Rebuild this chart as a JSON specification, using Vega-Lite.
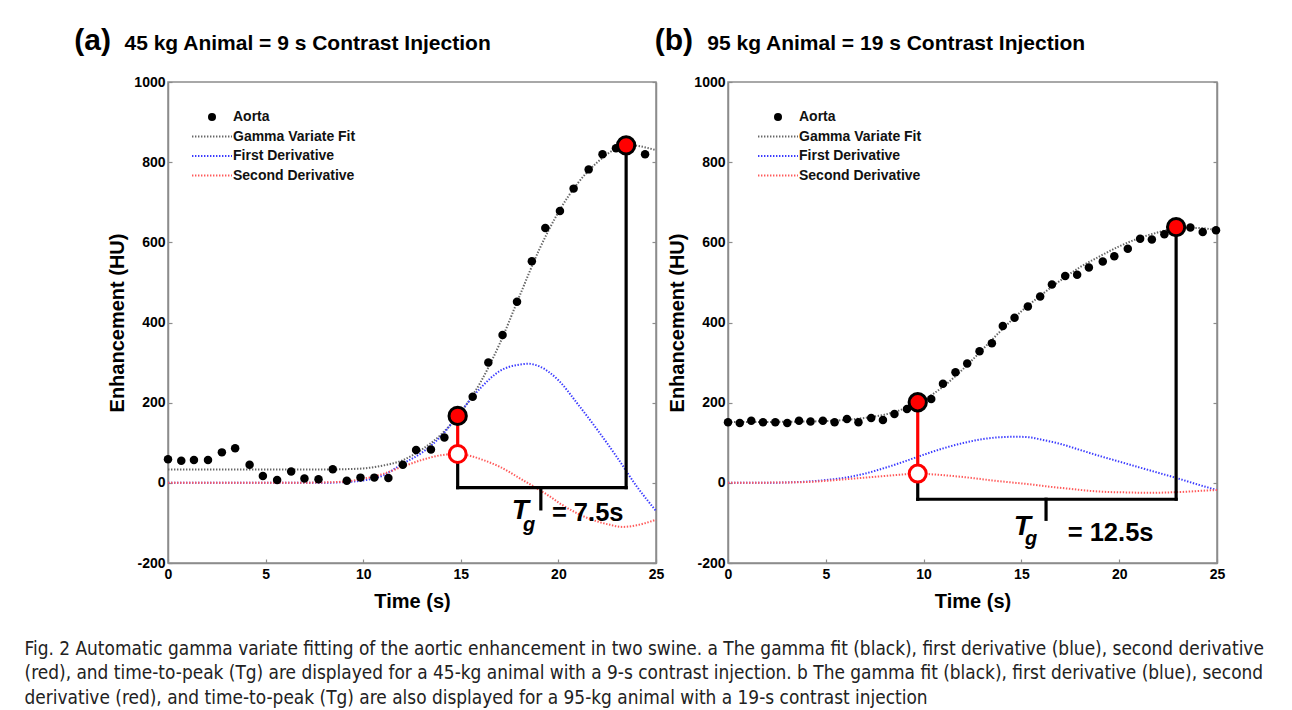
{
  "$schema": "https://vega.github.io/schema/vega-lite/v6.json",
  "background": "white",
  "autosize": {"type": "pad"},
  "padding": {"left": 24, "top": 25, "right": 10, "bottom": 5},
  "title": {
    "text": [
      "Fig. 2 Automatic gamma variate fitting of the aortic enhancement in two swine. a The gamma fit (black), first derivative (blue), second derivative",
      "(red), and time-to-peak (Tg) are displayed for a 45-kg animal with a 9-s contrast injection. b The gamma fit (black), first derivative (blue), second",
      "derivative (red), and time-to-peak (Tg) are also displayed for a 95-kg animal with a 19-s contrast injection"
    ],
    "orient": "bottom",
    "anchor": "start",
    "frame": "bounds",
    "dx": -49,
    "offset": 28,
    "font": "DejaVu Sans Condensed",
    "fontSize": 18.9,
    "fontWeight": "normal",
    "lineHeight": 24.5,
    "color": "#222222"
  },
  "datasets": {
    "aortaA": [
      {"t": 0, "v": 59}, {"t": 0.68, "v": 55}, {"t": 1.33, "v": 57}, {"t": 2.05, "v": 57}, {"t": 2.76, "v": 76},
      {"t": 3.44, "v": 86}, {"t": 4.18, "v": 45}, {"t": 4.86, "v": 17}, {"t": 5.59, "v": 7}, {"t": 6.31, "v": 28},
      {"t": 6.99, "v": 11}, {"t": 7.71, "v": 9}, {"t": 8.44, "v": 34}, {"t": 9.16, "v": 5}, {"t": 9.86, "v": 13},
      {"t": 10.57, "v": 13}, {"t": 11.29, "v": 12}, {"t": 12.03, "v": 45}, {"t": 12.71, "v": 82}, {"t": 13.47, "v": 83},
      {"t": 14.16, "v": 113}, {"t": 14.88, "v": 168}, {"t": 15.61, "v": 215}, {"t": 16.41, "v": 300}, {"t": 17.14, "v": 369},
      {"t": 17.88, "v": 452}, {"t": 18.64, "v": 553}, {"t": 19.33, "v": 636}, {"t": 20.08, "v": 678}, {"t": 20.78, "v": 734},
      {"t": 21.55, "v": 782}, {"t": 22.26, "v": 820}, {"t": 22.95, "v": 835}, {"t": 23.7, "v": 845}, {"t": 24.44, "v": 820}
    ],
    "curvesA": [
      {"t": 0, "v": 33, "series": "Gamma Variate Fit"}, {"t": 2, "v": 33, "series": "Gamma Variate Fit"}, {"t": 4, "v": 33, "series": "Gamma Variate Fit"},
      {"t": 6, "v": 33, "series": "Gamma Variate Fit"}, {"t": 8, "v": 33, "series": "Gamma Variate Fit"}, {"t": 9, "v": 34, "series": "Gamma Variate Fit"},
      {"t": 10, "v": 36, "series": "Gamma Variate Fit"}, {"t": 11, "v": 43, "series": "Gamma Variate Fit"}, {"t": 12, "v": 56, "series": "Gamma Variate Fit"},
      {"t": 13, "v": 83, "series": "Gamma Variate Fit"}, {"t": 14, "v": 121, "series": "Gamma Variate Fit"}, {"t": 15, "v": 176, "series": "Gamma Variate Fit"},
      {"t": 16, "v": 250, "series": "Gamma Variate Fit"}, {"t": 17, "v": 348, "series": "Gamma Variate Fit"}, {"t": 18, "v": 465, "series": "Gamma Variate Fit"},
      {"t": 19, "v": 580, "series": "Gamma Variate Fit"}, {"t": 20, "v": 675, "series": "Gamma Variate Fit"}, {"t": 21, "v": 748, "series": "Gamma Variate Fit"},
      {"t": 22, "v": 800, "series": "Gamma Variate Fit"}, {"t": 23, "v": 835, "series": "Gamma Variate Fit"}, {"t": 23.5, "v": 843, "series": "Gamma Variate Fit"},
      {"t": 24, "v": 841, "series": "Gamma Variate Fit"}, {"t": 25, "v": 830, "series": "Gamma Variate Fit"},
      {"t": 0, "v": 0, "series": "First Derivative"}, {"t": 2, "v": 0, "series": "First Derivative"}, {"t": 4, "v": 0, "series": "First Derivative"},
      {"t": 6, "v": 0, "series": "First Derivative"}, {"t": 8, "v": 0, "series": "First Derivative"}, {"t": 9, "v": 2, "series": "First Derivative"},
      {"t": 10, "v": 6, "series": "First Derivative"}, {"t": 11, "v": 18, "series": "First Derivative"}, {"t": 12, "v": 47, "series": "First Derivative"},
      {"t": 13, "v": 75, "series": "First Derivative"}, {"t": 14, "v": 117, "series": "First Derivative"}, {"t": 15, "v": 178, "series": "First Derivative"},
      {"t": 16, "v": 236, "series": "First Derivative"}, {"t": 17, "v": 279, "series": "First Derivative"}, {"t": 18, "v": 295, "series": "First Derivative"},
      {"t": 18.5, "v": 297, "series": "First Derivative"}, {"t": 19, "v": 291, "series": "First Derivative"}, {"t": 20, "v": 256, "series": "First Derivative"},
      {"t": 21, "v": 196, "series": "First Derivative"}, {"t": 22, "v": 132, "series": "First Derivative"}, {"t": 23, "v": 64, "series": "First Derivative"},
      {"t": 24, "v": -8, "series": "First Derivative"}, {"t": 25, "v": -70, "series": "First Derivative"},
      {"t": 0, "v": 0, "series": "Second Derivative"}, {"t": 2, "v": 0, "series": "Second Derivative"}, {"t": 4, "v": 0, "series": "Second Derivative"},
      {"t": 6, "v": 0, "series": "Second Derivative"}, {"t": 8, "v": 1, "series": "Second Derivative"}, {"t": 9, "v": 3, "series": "Second Derivative"},
      {"t": 10, "v": 10, "series": "Second Derivative"}, {"t": 11, "v": 22, "series": "Second Derivative"}, {"t": 12, "v": 40, "series": "Second Derivative"},
      {"t": 13, "v": 57, "series": "Second Derivative"}, {"t": 14, "v": 69, "series": "Second Derivative"}, {"t": 14.84, "v": 72, "series": "Second Derivative"},
      {"t": 15.5, "v": 67, "series": "Second Derivative"}, {"t": 16.2, "v": 56, "series": "Second Derivative"}, {"t": 17, "v": 40, "series": "Second Derivative"},
      {"t": 18, "v": 12, "series": "Second Derivative"}, {"t": 18.76, "v": -10, "series": "Second Derivative"}, {"t": 19.5, "v": -32, "series": "Second Derivative"},
      {"t": 20.13, "v": -53, "series": "Second Derivative"}, {"t": 21, "v": -77, "series": "Second Derivative"}, {"t": 21.5, "v": -88, "series": "Second Derivative"},
      {"t": 22.5, "v": -103, "series": "Second Derivative"}, {"t": 23.3, "v": -110, "series": "Second Derivative"}, {"t": 24, "v": -106, "series": "Second Derivative"},
      {"t": 25, "v": -92, "series": "Second Derivative"}
    ],
    "bracketA": [
      {"t": 14.84, "v": 72, "t2": 14.84, "v2": -12},
      {"t": 14.84, "v": -12, "t2": 23.47, "v2": -12},
      {"t": 23.47, "v": -12, "t2": 23.47, "v2": 842},
      {"t": 19.1, "v": -12, "t2": 19.1, "v2": -65}
    ],
    "linkA": [{"t": 14.84, "v": 167, "t2": 14.84, "v2": 72}],
    "keyA": [{"t": 14.84, "v": 167}, {"t": 23.47, "v": 842}],
    "d2A": [{"t": 14.84, "v": 72}],
    "aortaB": [
      {"t": 0, "v": 151}, {"t": 0.6, "v": 149}, {"t": 1.19, "v": 155}, {"t": 1.79, "v": 151}, {"t": 2.42, "v": 151},
      {"t": 3.03, "v": 149}, {"t": 3.63, "v": 155}, {"t": 4.22, "v": 153}, {"t": 4.85, "v": 155}, {"t": 5.45, "v": 151},
      {"t": 6.08, "v": 159}, {"t": 6.67, "v": 151}, {"t": 7.32, "v": 162}, {"t": 7.92, "v": 157}, {"t": 8.51, "v": 172},
      {"t": 9.15, "v": 184}, {"t": 9.71, "v": 201}, {"t": 10.39, "v": 209}, {"t": 10.99, "v": 247}, {"t": 11.63, "v": 276},
      {"t": 12.23, "v": 298}, {"t": 12.86, "v": 328}, {"t": 13.49, "v": 348}, {"t": 14.05, "v": 391}, {"t": 14.65, "v": 412},
      {"t": 15.33, "v": 440}, {"t": 15.96, "v": 465}, {"t": 16.56, "v": 495}, {"t": 17.24, "v": 516}, {"t": 17.85, "v": 519},
      {"t": 18.45, "v": 537}, {"t": 19.16, "v": 552}, {"t": 19.75, "v": 565}, {"t": 20.44, "v": 584}, {"t": 21.07, "v": 609},
      {"t": 21.67, "v": 607}, {"t": 22.31, "v": 620}, {"t": 22.91, "v": 638}, {"t": 23.64, "v": 637}, {"t": 24.27, "v": 626},
      {"t": 24.95, "v": 630}
    ],
    "curvesB": [
      {"t": 0, "v": 152, "series": "Gamma Variate Fit"}, {"t": 2, "v": 152, "series": "Gamma Variate Fit"}, {"t": 4, "v": 153, "series": "Gamma Variate Fit"},
      {"t": 5, "v": 154, "series": "Gamma Variate Fit"}, {"t": 6, "v": 157, "series": "Gamma Variate Fit"}, {"t": 7, "v": 162, "series": "Gamma Variate Fit"},
      {"t": 8, "v": 170, "series": "Gamma Variate Fit"}, {"t": 9, "v": 185, "series": "Gamma Variate Fit"}, {"t": 10, "v": 207, "series": "Gamma Variate Fit"},
      {"t": 11, "v": 240, "series": "Gamma Variate Fit"}, {"t": 12, "v": 283, "series": "Gamma Variate Fit"}, {"t": 13, "v": 332, "series": "Gamma Variate Fit"},
      {"t": 14, "v": 382, "series": "Gamma Variate Fit"}, {"t": 15, "v": 428, "series": "Gamma Variate Fit"}, {"t": 16, "v": 468, "series": "Gamma Variate Fit"},
      {"t": 17, "v": 505, "series": "Gamma Variate Fit"}, {"t": 18, "v": 538, "series": "Gamma Variate Fit"}, {"t": 19, "v": 565, "series": "Gamma Variate Fit"},
      {"t": 20, "v": 590, "series": "Gamma Variate Fit"}, {"t": 21, "v": 610, "series": "Gamma Variate Fit"}, {"t": 22, "v": 625, "series": "Gamma Variate Fit"},
      {"t": 23, "v": 635, "series": "Gamma Variate Fit"}, {"t": 24, "v": 636, "series": "Gamma Variate Fit"}, {"t": 25, "v": 630, "series": "Gamma Variate Fit"},
      {"t": 0, "v": 0, "series": "First Derivative"}, {"t": 2, "v": 0, "series": "First Derivative"}, {"t": 3, "v": 1, "series": "First Derivative"},
      {"t": 4, "v": 3, "series": "First Derivative"}, {"t": 5, "v": 7, "series": "First Derivative"}, {"t": 6, "v": 13, "series": "First Derivative"},
      {"t": 7, "v": 23, "series": "First Derivative"}, {"t": 8, "v": 37, "series": "First Derivative"}, {"t": 9, "v": 53, "series": "First Derivative"},
      {"t": 10, "v": 70, "series": "First Derivative"}, {"t": 11, "v": 86, "series": "First Derivative"}, {"t": 12, "v": 99, "series": "First Derivative"},
      {"t": 13, "v": 109, "series": "First Derivative"}, {"t": 14, "v": 114, "series": "First Derivative"}, {"t": 14.8, "v": 115, "series": "First Derivative"},
      {"t": 15.5, "v": 113, "series": "First Derivative"}, {"t": 16, "v": 108, "series": "First Derivative"}, {"t": 17, "v": 97, "series": "First Derivative"},
      {"t": 18, "v": 82, "series": "First Derivative"}, {"t": 19, "v": 67, "series": "First Derivative"}, {"t": 20, "v": 53, "series": "First Derivative"},
      {"t": 21, "v": 39, "series": "First Derivative"}, {"t": 22, "v": 25, "series": "First Derivative"}, {"t": 23, "v": 11, "series": "First Derivative"},
      {"t": 24, "v": -4, "series": "First Derivative"}, {"t": 25, "v": -18, "series": "First Derivative"},
      {"t": 0, "v": 0, "series": "Second Derivative"}, {"t": 3, "v": 1, "series": "Second Derivative"}, {"t": 4, "v": 2, "series": "Second Derivative"},
      {"t": 5, "v": 5, "series": "Second Derivative"}, {"t": 6, "v": 9, "series": "Second Derivative"}, {"t": 7, "v": 13, "series": "Second Derivative"},
      {"t": 8, "v": 17, "series": "Second Derivative"}, {"t": 9, "v": 21, "series": "Second Derivative"}, {"t": 9.7, "v": 23, "series": "Second Derivative"},
      {"t": 10.5, "v": 21, "series": "Second Derivative"}, {"t": 11.5, "v": 17, "series": "Second Derivative"}, {"t": 12.5, "v": 12, "series": "Second Derivative"},
      {"t": 13.5, "v": 6, "series": "Second Derivative"}, {"t": 14.5, "v": 1, "series": "Second Derivative"}, {"t": 15.5, "v": -4, "series": "Second Derivative"},
      {"t": 16.5, "v": -10, "series": "Second Derivative"}, {"t": 17.5, "v": -15, "series": "Second Derivative"}, {"t": 18.5, "v": -20, "series": "Second Derivative"},
      {"t": 19.5, "v": -23, "series": "Second Derivative"}, {"t": 20.5, "v": -24, "series": "Second Derivative"}, {"t": 21.5, "v": -25, "series": "Second Derivative"},
      {"t": 22.5, "v": -24, "series": "Second Derivative"}, {"t": 23.5, "v": -22, "series": "Second Derivative"}, {"t": 24.5, "v": -19, "series": "Second Derivative"},
      {"t": 25, "v": -18, "series": "Second Derivative"}
    ],
    "bracketB": [
      {"t": 9.7, "v": 23, "t2": 9.7, "v2": -41},
      {"t": 9.7, "v": -41, "t2": 22.91, "v2": -41},
      {"t": 22.91, "v": -41, "t2": 22.91, "v2": 638},
      {"t": 16.26, "v": -41, "t2": 16.26, "v2": -91}
    ],
    "linkB": [{"t": 9.7, "v": 201, "t2": 9.7, "v2": 23}],
    "keyB": [{"t": 9.7, "v": 201}, {"t": 22.91, "v": 638}],
    "d2B": [{"t": 9.7, "v": 23}]
  },
  "hconcat": [
    {
      "width": 488,
      "height": 481,
      "resolve": {"axis": {"y": "independent"}},
      "layer": [
        {
          "layer": [
            {
              "data": {"name": "curvesA"},
              "mark": {"type": "line", "strokeDash": [1.4, 1.6], "strokeWidth": 2, "interpolate": "monotone"},
              "encoding": {
                "x": {"field": "t", "type": "quantitative", "scale": {"domain": [0, 25], "nice": false, "zero": false}, "axis": {"title": "Time (s)", "values": [0, 5, 10, 15, 20, 25], "labelPadding": 8, "titlePadding": 10}},
                "y": {"field": "v", "type": "quantitative", "scale": {"domain": [-200, 1000], "nice": false}, "axis": {"title": "Enhancement (HU)", "values": [-200, 0, 200, 400, 600, 800, 1000], "labelExpr": "'' + datum.value", "labelPadding": 7, "titlePadding": 6}},
                "color": {
                  "field": "series", "type": "nominal",
                  "scale": {"domain": ["Aorta", "Gamma Variate Fit", "First Derivative", "Second Derivative"], "range": ["#000000", "#666666", "#3b3bff", "#ff5a5a"]},
                  "legend": {
                    "orient": "none", "legendX": 37, "legendY": 28, "title": null, "padding": 0,
                    "symbolSize": 100, "labelOffset": 14, "rowPadding": 5.5,
                    "labelFont": "Liberation Sans", "labelFontWeight": "bold", "labelFontSize": 14, "labelColor": "#111111",
                    "encode": {"symbols": {"update": {
                      "shape": {"signal": "datum.value === 'Aorta' ? 'circle' : 'M-4,0H4'"},
                      "size": {"signal": "datum.value === 'Aorta' ? 64 : 100"},
                      "fill": {"signal": "datum.value === 'Aorta' ? '#000000' : 'transparent'"},
                      "stroke": {"signal": "datum.value === 'Aorta' ? '#000000' : datum.value === 'Gamma Variate Fit' ? '#666666' : datum.value === 'First Derivative' ? '#3b3bff' : '#ff5a5a'"},
                      "strokeDash": {"signal": "datum.value === 'Aorta' ? [] : [1.4, 1.6]"},
                      "strokeWidth": {"signal": "datum.value === 'Aorta' ? 0 : 2"},
                      "opacity": {"value": 1}
                    }}}
                  }
                }
              }
            },
            {
              "data": {"name": "aortaA"},
              "mark": {"type": "circle", "size": 72, "opacity": 1},
              "encoding": {
                "x": {"field": "t", "type": "quantitative"},
                "y": {"field": "v", "type": "quantitative"},
                "color": {"datum": "Aorta"}
              }
            },
            {
              "data": {"name": "bracketA"},
              "mark": {"type": "rule", "color": "black", "strokeWidth": 3.2, "strokeCap": "square"},
              "encoding": {
                "x": {"field": "t", "type": "quantitative"}, "y": {"field": "v", "type": "quantitative"},
                "x2": {"field": "t2"}, "y2": {"field": "v2"}
              }
            },
            {
              "data": {"name": "linkA"},
              "mark": {"type": "rule", "color": "#ff0000", "strokeWidth": 3.2},
              "encoding": {
                "x": {"field": "t", "type": "quantitative"}, "y": {"field": "v", "type": "quantitative"},
                "x2": {"field": "t2"}, "y2": {"field": "v2"}
              }
            },
            {
              "data": {"name": "keyA"},
              "mark": {"type": "circle", "size": 300, "fill": "#ff0000", "stroke": "#000000", "strokeWidth": 3, "opacity": 1},
              "encoding": {"x": {"field": "t", "type": "quantitative"}, "y": {"field": "v", "type": "quantitative"}}
            },
            {
              "data": {"name": "d2A"},
              "mark": {"type": "circle", "size": 289, "fill": "#ffffff", "stroke": "#ff0000", "strokeWidth": 3, "opacity": 1},
              "encoding": {"x": {"field": "t", "type": "quantitative"}, "y": {"field": "v", "type": "quantitative"}}
            },
            {
              "data": {"values": [{}]},
              "mark": {"type": "text", "font": "Liberation Sans", "fontWeight": "bold", "fontStyle": "italic", "fontSize": 28, "align": "center", "baseline": "middle", "color": "black"},
              "encoding": {"x": {"datum": 18.05}, "y": {"datum": -70}, "text": {"value": "T"}}
            },
            {
              "data": {"values": [{}]},
              "mark": {"type": "text", "font": "Liberation Sans", "fontWeight": "bold", "fontStyle": "italic", "fontSize": 20, "align": "center", "baseline": "middle", "color": "black"},
              "encoding": {"x": {"datum": 18.5}, "y": {"datum": -105}, "text": {"value": "g"}}
            },
            {
              "data": {"values": [{}]},
              "mark": {"type": "text", "font": "Liberation Sans", "fontWeight": "bold", "fontSize": 25.5, "align": "center", "baseline": "middle", "color": "black"},
              "encoding": {"x": {"datum": 21.5}, "y": {"datum": -75}, "text": {"value": "= 7.5s"}}
            },
            {
              "data": {"values": [{}]},
              "mark": {"type": "text", "font": "Liberation Sans", "fontWeight": "bold", "fontSize": 30, "align": "left", "baseline": "alphabetic", "color": "black"},
              "encoding": {"x": {"datum": -4.8}, "y": {"datum": 1080}, "text": {"value": "(a)"}}
            },
            {
              "data": {"values": [{}]},
              "mark": {"type": "text", "font": "Liberation Sans", "fontWeight": "bold", "fontSize": 21, "align": "left", "baseline": "alphabetic", "color": "black"},
              "encoding": {"x": {"datum": -2.23}, "y": {"datum": 1080}, "text": {"value": "45 kg Animal = 9 s Contrast Injection"}}
            }
          ]
        },
        {
          "mark": {"type": "rule", "opacity": 0},
          "encoding": {
            "y": {"datum": 0, "type": "quantitative", "axis": {"orient": "right", "labels": false, "title": null, "values": [-200, 0, 200, 400, 600, 800, 1000]}}
          }
        }
      ]
    },
    {
      "width": 489,
      "height": 481,
      "resolve": {"axis": {"y": "independent"}},
      "layer": [
        {
          "layer": [
            {
              "data": {"name": "curvesB"},
              "mark": {"type": "line", "strokeDash": [1.4, 1.6], "strokeWidth": 2, "interpolate": "monotone"},
              "encoding": {
                "x": {"field": "t", "type": "quantitative", "scale": {"domain": [0, 25], "nice": false, "zero": false}, "axis": {"title": "Time (s)", "values": [0, 5, 10, 15, 20, 25], "labelPadding": 8, "titlePadding": 10}},
                "y": {"field": "v", "type": "quantitative", "scale": {"domain": [-200, 1000], "nice": false}, "axis": {"title": "Enhancement (HU)", "values": [-200, 0, 200, 400, 600, 800, 1000], "labelExpr": "'' + datum.value", "labelPadding": 7, "titlePadding": 6}},
                "color": {
                  "field": "series", "type": "nominal",
                  "scale": {"domain": ["Aorta", "Gamma Variate Fit", "First Derivative", "Second Derivative"], "range": ["#000000", "#666666", "#3b3bff", "#ff5a5a"]},
                  "legend": {
                    "orient": "none", "legendX": 43, "legendY": 28, "title": null, "padding": 0,
                    "symbolSize": 100, "labelOffset": 14, "rowPadding": 5.5,
                    "labelFont": "Liberation Sans", "labelFontWeight": "bold", "labelFontSize": 14, "labelColor": "#111111",
                    "encode": {"symbols": {"update": {
                      "shape": {"signal": "datum.value === 'Aorta' ? 'circle' : 'M-4,0H4'"},
                      "size": {"signal": "datum.value === 'Aorta' ? 64 : 100"},
                      "fill": {"signal": "datum.value === 'Aorta' ? '#000000' : 'transparent'"},
                      "stroke": {"signal": "datum.value === 'Aorta' ? '#000000' : datum.value === 'Gamma Variate Fit' ? '#666666' : datum.value === 'First Derivative' ? '#3b3bff' : '#ff5a5a'"},
                      "strokeDash": {"signal": "datum.value === 'Aorta' ? [] : [1.4, 1.6]"},
                      "strokeWidth": {"signal": "datum.value === 'Aorta' ? 0 : 2"},
                      "opacity": {"value": 1}
                    }}}
                  }
                }
              }
            },
            {
              "data": {"name": "aortaB"},
              "mark": {"type": "circle", "size": 72, "opacity": 1},
              "encoding": {
                "x": {"field": "t", "type": "quantitative"},
                "y": {"field": "v", "type": "quantitative"},
                "color": {"datum": "Aorta"}
              }
            },
            {
              "data": {"name": "bracketB"},
              "mark": {"type": "rule", "color": "black", "strokeWidth": 3.2, "strokeCap": "square"},
              "encoding": {
                "x": {"field": "t", "type": "quantitative"}, "y": {"field": "v", "type": "quantitative"},
                "x2": {"field": "t2"}, "y2": {"field": "v2"}
              }
            },
            {
              "data": {"name": "linkB"},
              "mark": {"type": "rule", "color": "#ff0000", "strokeWidth": 3.2},
              "encoding": {
                "x": {"field": "t", "type": "quantitative"}, "y": {"field": "v", "type": "quantitative"},
                "x2": {"field": "t2"}, "y2": {"field": "v2"}
              }
            },
            {
              "data": {"name": "keyB"},
              "mark": {"type": "circle", "size": 300, "fill": "#ff0000", "stroke": "#000000", "strokeWidth": 3, "opacity": 1},
              "encoding": {"x": {"field": "t", "type": "quantitative"}, "y": {"field": "v", "type": "quantitative"}}
            },
            {
              "data": {"name": "d2B"},
              "mark": {"type": "circle", "size": 289, "fill": "#ffffff", "stroke": "#ff0000", "strokeWidth": 3, "opacity": 1},
              "encoding": {"x": {"field": "t", "type": "quantitative"}, "y": {"field": "v", "type": "quantitative"}}
            },
            {
              "data": {"values": [{}]},
              "mark": {"type": "text", "font": "Liberation Sans", "fontWeight": "bold", "fontStyle": "italic", "fontSize": 28, "align": "center", "baseline": "middle", "color": "black"},
              "encoding": {"x": {"datum": 15.05}, "y": {"datum": -110}, "text": {"value": "T"}}
            },
            {
              "data": {"values": [{}]},
              "mark": {"type": "text", "font": "Liberation Sans", "fontWeight": "bold", "fontStyle": "italic", "fontSize": 20, "align": "center", "baseline": "middle", "color": "black"},
              "encoding": {"x": {"datum": 15.5}, "y": {"datum": -140}, "text": {"value": "g"}}
            },
            {
              "data": {"values": [{}]},
              "mark": {"type": "text", "font": "Liberation Sans", "fontWeight": "bold", "fontSize": 25.5, "align": "center", "baseline": "middle", "color": "black"},
              "encoding": {"x": {"datum": 19.56}, "y": {"datum": -124}, "text": {"value": "= 12.5s"}}
            },
            {
              "data": {"values": [{}]},
              "mark": {"type": "text", "font": "Liberation Sans", "fontWeight": "bold", "fontSize": 30, "align": "left", "baseline": "alphabetic", "color": "black"},
              "encoding": {"x": {"datum": -3.75}, "y": {"datum": 1080}, "text": {"value": "(b)"}}
            },
            {
              "data": {"values": [{}]},
              "mark": {"type": "text", "font": "Liberation Sans", "fontWeight": "bold", "fontSize": 21, "align": "left", "baseline": "alphabetic", "color": "black"},
              "encoding": {"x": {"datum": -1.06}, "y": {"datum": 1080}, "text": {"value": "95 kg Animal = 19 s Contrast Injection"}}
            }
          ]
        },
        {
          "mark": {"type": "rule", "opacity": 0},
          "encoding": {
            "y": {"datum": 0, "type": "quantitative", "axis": {"orient": "right", "labels": false, "title": null, "values": [-200, 0, 200, 400, 600, 800, 1000]}}
          }
        }
      ]
    }
  ],
  "spacing": -12,
  "resolve": {"scale": {"color": "independent"}, "legend": {"color": "independent"}},
  "config": {
    "view": {"stroke": "#8c8c8c", "strokeWidth": 1.5},
    "axis": {
      "domainColor": "#8c8c8c", "domainWidth": 1.5, "tickColor": "#8c8c8c", "tickSize": -4, "tickWidth": 1.2,
      "grid": false, "labelFont": "Liberation Sans", "labelFontWeight": "bold", "labelFontSize": 14, "labelColor": "#000000",
      "labelOverlap": false, "labelBound": false, "labelFlush": false,
      "titleFont": "Liberation Sans", "titleFontWeight": "bold", "titleFontSize": 20, "titleColor": "#000000"
    }
  }
}
